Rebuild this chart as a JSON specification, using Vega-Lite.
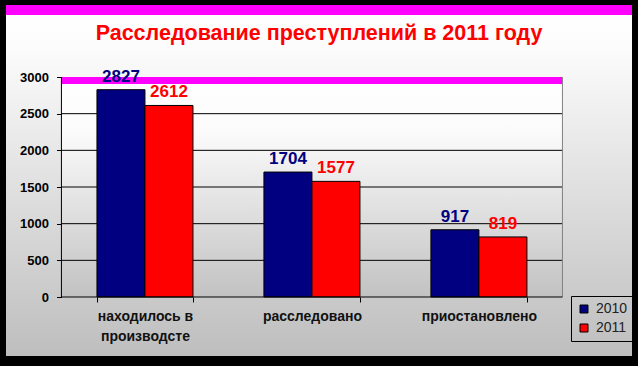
{
  "$schema": "https://vega.github.io/schema/vega-lite/v6.json",
  "width": 626,
  "height": 351,
  "autosize": {"type": "none"},
  "padding": {"left": 6, "top": 5, "right": 6, "bottom": 10},
  "background": "#000000",
  "config": {"view": {"stroke": null}, "font": "Liberation Sans"},
  "datasets": {
    "bars": [
      {"cat": "находилось в производсте", "year": "2010", "value": 2827},
      {"cat": "находилось в производсте", "year": "2011", "value": 2612},
      {"cat": "расследовано", "year": "2010", "value": 1704},
      {"cat": "расследовано", "year": "2011", "value": 1577},
      {"cat": "приостановлено", "year": "2010", "value": 917},
      {"cat": "приостановлено", "year": "2011", "value": 819}
    ],
    "grid": [{"g": 500}, {"g": 1000}, {"g": 1500}, {"g": 2000}, {"g": 2500}]
  },
  "layer": [
    {
      "data": {"values": [{"k": "bg"}]},
      "mark": {"type": "rect", "color": {"gradient": "linear", "x1": 0, "y1": 0, "x2": 0, "y2": 1,
        "stops": [{"offset": 0, "color": "#ffffff"}, {"offset": 0.12, "color": "#fcfcfc"}, {"offset": 1, "color": "#bebebe"}]}},
      "encoding": {}
    },
    {
      "data": {"values": [{"k": "top"}]},
      "mark": {"type": "rect", "color": "#ff00ff"},
      "encoding": {"y": {"datum": 3982, "type": "quantitative"}, "y2": {"datum": 3845}}
    },
    {
      "data": {"values": [{"k": "plot"}]},
      "mark": {"type": "rect", "color": {"gradient": "linear", "x1": 0, "y1": 0, "x2": 0, "y2": 1,
        "stops": [{"offset": 0, "color": "#ffffff"}, {"offset": 0.25, "color": "#fbfbfb"}, {"offset": 1, "color": "#c2c2c2"}]}},
      "encoding": {
        "x": {"datum": "находилось в производсте", "bandPosition": -0.37},
        "x2": {"datum": "приостановлено", "bandPosition": 1.37},
        "y": {"datum": 0, "type": "quantitative"},
        "y2": {"datum": 3000}
      }
    },
    {
      "data": {"name": "grid"},
      "mark": {"type": "rule", "color": "#000000", "strokeWidth": 1},
      "encoding": {
        "y": {"field": "g", "type": "quantitative"},
        "x": {"datum": "находилось в производсте", "bandPosition": -0.37},
        "x2": {"datum": "приостановлено", "bandPosition": 1.37}
      }
    },
    {
      "data": {"values": [{"k": "band"}]},
      "mark": {"type": "rect", "color": "#ff00ff"},
      "encoding": {
        "x": {"datum": "находилось в производсте", "bandPosition": -0.37},
        "x2": {"datum": "приостановлено", "bandPosition": 1.37},
        "y": {"datum": 2905, "type": "quantitative"},
        "y2": {"datum": 3000}
      }
    },
    {
      "data": {"name": "bars"},
      "mark": {"type": "bar", "stroke": "#000000", "strokeWidth": 1},
      "encoding": {
        "x": {
          "field": "cat", "type": "nominal",
          "scale": {"domain": ["находилось в производсте", "расследовано", "приостановлено"], "paddingInner": 0.425, "paddingOuter": 0.587, "align": 0.464},
          "axis": {
            "orient": "bottom", "offset": -59, "domain": false, "tickBand": "extent", "tickSize": 5, "tickColor": "#000000",
            "labelAngle": 0, "labelAlign": "center", "bandPosition": 0.5, "zindex": 1, "labelFontSize": 14, "labelFontWeight": "bold", "labelColor": "#111111", "labelPadding": 14,
            "labelLineHeight": 20, "labelLimit": 0, "title": null,
            "labelExpr": "datum.value == 'находилось в производсте' ? ['находилось в', 'производсте'] : datum.label"
          }
        },
        "xOffset": {"field": "year", "type": "nominal"},
        "y": {
          "field": "value", "type": "quantitative", "stack": null,
          "scale": {"domain": [-804.5, 3982], "nice": false, "zero": false},
          "axis": {
            "orient": "left", "offset": -55.5, "values": [0, 500, 1000, 1500, 2000, 2500, 3000], "format": "d", "domain": false, "grid": false, "zindex": 1,
            "tickSize": 5, "tickColor": "#000000", "labelFontSize": 13, "labelFontWeight": "bold", "labelColor": "#000000",
            "labelPadding": 8, "title": null
          }
        },
        "color": {
          "field": "year", "type": "nominal",
          "scale": {"domain": ["2010", "2011"], "range": ["#000080", "#ff0000"]},
          "legend": {
            "orient": "none", "legendX": 565, "legendY": 291, "title": null, "symbolType": "square", "symbolSize": 64,
            "symbolStrokeColor": "#000000", "symbolStrokeWidth": 1, "labelFontSize": 14, "labelFont": "Liberation Sans",
            "labelColor": "#222222", "strokeColor": "#000000", "padding": 6, "rowPadding": 5, "labelOffset": 5
          }
        }
      }
    },
    {
      "data": {"name": "bars"},
      "mark": {"type": "text", "dy": -8, "baseline": "alphabetic", "fontSize": 17, "fontWeight": "bold", "font": "Liberation Sans"},
      "encoding": {
        "x": {"field": "cat", "type": "nominal"},
        "xOffset": {"field": "year", "type": "nominal"},
        "y": {"field": "value", "type": "quantitative"},
        "text": {"field": "value", "type": "quantitative"},
        "color": {"field": "year", "type": "nominal", "legend": null}
      }
    },
    {
      "data": {"values": [{"k": "left"}]},
      "mark": {"type": "rule", "color": "#000000", "strokeWidth": 1},
      "encoding": {
        "x": {"datum": "находилось в производсте", "bandPosition": -0.37},
        "y": {"datum": 0, "type": "quantitative"},
        "y2": {"datum": 3000}
      }
    },
    {
      "data": {"values": [{"k": "right"}]},
      "mark": {"type": "rule", "color": "#808080", "strokeWidth": 1},
      "encoding": {
        "x": {"datum": "приостановлено", "bandPosition": 1.37},
        "y": {"datum": 0, "type": "quantitative"},
        "y2": {"datum": 3000}
      }
    },
    {
      "data": {"values": [{"k": "bottom"}]},
      "mark": {"type": "rule", "color": "#000000", "strokeWidth": 1},
      "encoding": {
        "x": {"datum": "находилось в производсте", "bandPosition": -0.37},
        "x2": {"datum": "приостановлено", "bandPosition": 1.37},
        "y": {"datum": 0, "type": "quantitative"}
      }
    },
    {
      "data": {"values": [{"t": "Расследование преступлений в 2011 году"}]},
      "mark": {"type": "text", "fontSize": 21.5, "fontWeight": "bold", "color": "#ff0000", "baseline": "alphabetic", "font": "Liberation Sans"},
      "encoding": {
        "text": {"field": "t"},
        "y": {"datum": 3504.5, "type": "quantitative"}
      }
    }
  ]
}
